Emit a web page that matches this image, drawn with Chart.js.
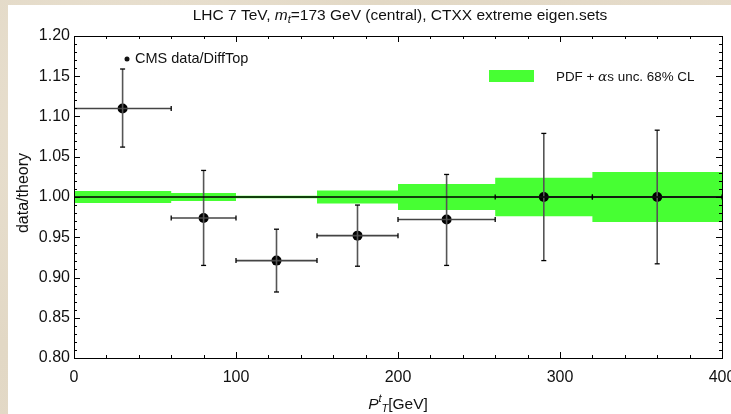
<!DOCTYPE html>
<html>
<head>
<meta charset="utf-8">
<script src="https://cdn.jsdelivr.net/npm/chart.js@4/dist/chart.umd.min.js"></script>
<style>
  html, body { margin: 0; padding: 0; }
  body {
    width: 731px; height: 414px; overflow: hidden; position: relative;
    background: #e4dac8;
    background-image: radial-gradient(circle at 20% 30%, #ebe3d4 0, #e2d8c5 40%, #e6dccb 100%);
  }
  #wrap { position: absolute; left: 0; top: 0; width: 760px; height: 414px; }
</style>
</head>
<body>
<div id="wrap"><canvas id="chart" width="760" height="414"></canvas></div>
<script>
// bins in P_T (GeV)
const binLo = [0, 60, 100, 150, 200, 260, 320];
const binHi = [60, 100, 150, 200, 260, 320, 400];
// CMS data / theory
const ptX = [30, 80, 125, 175, 230, 290, 360];
const ptY = [1.110, 0.974, 0.921, 0.952, 0.972, 1.000, 1.000];
const errLo = [1.062, 0.915, 0.882, 0.914, 0.915, 0.921, 0.917];
const errHi = [1.159, 1.033, 0.960, 0.990, 1.028, 1.079, 1.083];
// PDF + alpha_s band half width per bin
const bandHalf = [0.0075, 0.005, 0.0015, 0.008, 0.016, 0.024, 0.031];

const green = "#47ff33";
const font = "'Liberation Sans', Arial, Helvetica, sans-serif";

// band outline: two points per bin so the edges are vertical
const bandUp = [], bandDn = [];
binLo.forEach((lo, i) => {
  bandUp.push({ x: lo, y: 1 + bandHalf[i] }, { x: binHi[i], y: 1 + bandHalf[i] });
  bandDn.push({ x: lo, y: 1 - bandHalf[i] }, { x: binHi[i], y: 1 - bandHalf[i] });
});

const datasets = [
  { data: bandUp, showLine: true, borderWidth: 0, pointRadius: 0, fill: false, borderColor: "transparent" },
  { data: bandDn, showLine: true, borderWidth: 0, pointRadius: 0, fill: "-1", backgroundColor: green, borderColor: "transparent" },
  { data: [{ x: 0, y: 1 }, { x: 400, y: 1 }], showLine: true, borderColor: "#000", borderWidth: 1.3, pointRadius: 0 },
];

ptX.forEach((x, i) => {
  // vertical error bar
  datasets.push({
    data: [{ x, y: errLo[i] }, { x, y: errHi[i] }],
    showLine: true, borderColor: "#555", borderWidth: 1.6,
    pointStyle: "line", pointRadius: 2.5, pointBorderColor: "#000", pointBorderWidth: 1.3, rotation: 0,
  });
  // horizontal error bar
  datasets.push({
    data: [{ x: binLo[i], y: ptY[i] }, { x: binHi[i], y: ptY[i] }],
    showLine: true, borderColor: "#444", borderWidth: 1.6,
    pointStyle: "line", pointRadius: 2.5, pointBorderColor: "#000", pointBorderWidth: 1.3, rotation: 90,
  });
});

datasets.push({
  data: ptX.map((x, i) => ({ x, y: ptY[i] })),
  pointRadius: 5, pointBackgroundColor: "#000", pointBorderColor: "#000", borderWidth: 0,
});

function drawRuns(ctx, runs, cx, y, align) {
  let w = 0;
  runs.forEach(r => { ctx.font = r.f; w += ctx.measureText(r.t).width; });
  let x = align === "center" ? cx - w / 2 : cx;
  ctx.textAlign = "left";
  ctx.textBaseline = "alphabetic";
  runs.forEach(r => {
    ctx.font = r.f;
    ctx.fillText(r.t, x, y + (r.dy || 0));
    x += ctx.measureText(r.t).width;
  });
}

const decor = {
  id: "decor",
  beforeDraw(chart) {
    const ctx = chart.ctx;
    ctx.save();
    ctx.fillStyle = "#fff";
    ctx.fillRect(8, 5, 760 - 8, 414 - 5);
    ctx.restore();
  },
  afterDraw(chart) {
    const ctx = chart.ctx;
    const a = chart.chartArea;
    const xs = chart.scales.x, ys = chart.scales.y;
    ctx.save();
    ctx.strokeStyle = "#000";
    ctx.lineWidth = 1;
    ctx.strokeRect(Math.round(a.left) + 0.5, Math.round(a.top) + 0.5, Math.round(a.right - a.left), Math.round(a.bottom - a.top));
    ctx.beginPath();
    for (let v = 0; v <= 400; v += 20) {
      const px = Math.round(xs.getPixelForValue(v)) + 0.5;
      const len = v % 100 === 0 ? 6 : 3;
      ctx.moveTo(px, a.bottom); ctx.lineTo(px, a.bottom - len);
      ctx.moveTo(px, a.top); ctx.lineTo(px, a.top + len);
    }
    for (let k = 0; k <= 40; k++) {
      const v = 0.8 + k * 0.01;
      const py = Math.round(ys.getPixelForValue(v)) + 0.5;
      const len = k % 5 === 0 ? 6 : 3;
      ctx.moveTo(a.left, py); ctx.lineTo(a.left + len, py);
      ctx.moveTo(a.right, py); ctx.lineTo(a.right - len, py);
    }
    ctx.stroke();

    ctx.fillStyle = "#111";
    // title
    drawRuns(ctx, [
      { t: "LHC 7 TeV, ", f: "15.5px " + font },
      { t: "m", f: "italic 15.5px " + font },
      { t: "t", f: "italic 11px " + font, dy: 3 },
      { t: "=173 GeV (central), CTXX extreme eigen.sets", f: "15.5px " + font },
    ], 400, 20, "center");
    // x axis label
    drawRuns(ctx, [
      { t: "P", f: "italic 15.5px " + font },
      { t: "t", f: "italic 11px " + font, dy: -7 },
      { t: "T", f: "italic 11px " + font, dy: 3 },
      { t: "[GeV]", f: "15.5px " + font },
    ], 398, 409, "center");
    // y axis label
    ctx.save();
    ctx.translate(28, 193);
    ctx.rotate(-Math.PI / 2);
    ctx.font = "16px " + font;
    ctx.textAlign = "center";
    ctx.fillText("data/theory", 0, 0);
    ctx.restore();

    // legend: data
    ctx.beginPath();
    ctx.arc(127, 59, 2.5, 0, Math.PI * 2);
    ctx.fill();
    ctx.font = "14.5px " + font;
    ctx.textBaseline = "middle";
    ctx.fillText("CMS data/DiffTop", 135, 59);
    // legend: band
    ctx.fillStyle = green;
    ctx.fillRect(489, 70, 45, 12);
    ctx.fillStyle = "#111";
    drawRuns(ctx, [
      { t: "PDF + ", f: "13.4px " + font },
      { t: "\u03b1", f: "italic 13.8px 'DejaVu Serif', serif" },
      { t: "s unc. 68% CL", f: "13.4px " + font },
    ], 556, 81, "left");
    ctx.restore();
  }
};

new Chart(document.getElementById("chart"), {
  type: "scatter",
  data: { datasets },
  plugins: [decor],
  options: {
    responsive: false,
    animation: false,
    layout: { autoPadding: false, padding: { left: 0, top: 36, right: 38, bottom: 0 } },
    plugins: {
      legend: { display: false },
      tooltip: { enabled: false },
      filler: { drawTime: "beforeDatasetsDraw" },
    },
    scales: {
      x: {
        type: "linear", min: 0, max: 400,
        afterFit(s) { s.height = 56; },
        grid: { display: false, drawTicks: false },
        border: { display: false },
        ticks: { stepSize: 100, padding: 10, color: "#111", font: { size: 16, family: font }, maxRotation: 0 },
      },
      y: {
        min: 0.8, max: 1.2,
        afterFit(s) { s.width = 74; },
        grid: { display: false, drawTicks: false },
        border: { display: false },
        ticks: { stepSize: 0.05, padding: 4, color: "#111", font: { size: 16, family: font }, callback: v => v.toFixed(2) },
      },
    },
  },
});
</script>
</body>
</html>
